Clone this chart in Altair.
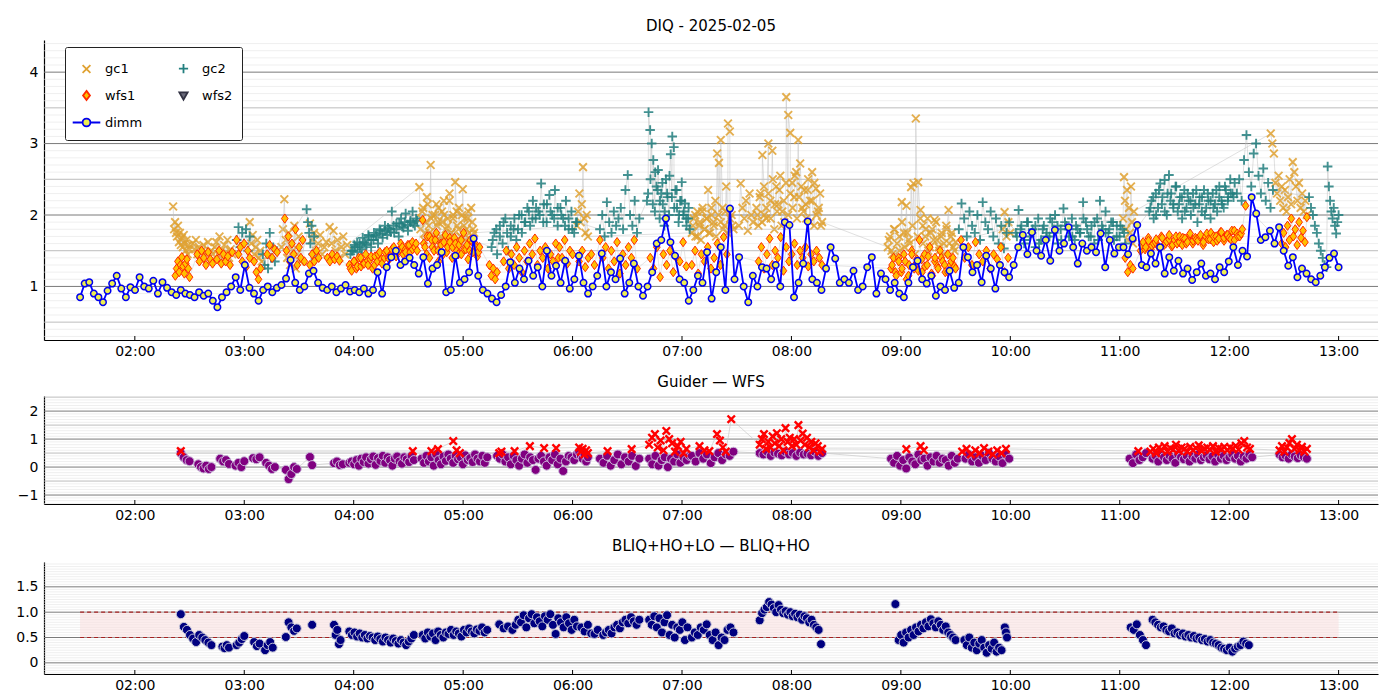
import altair as alt
import pandas as pd

# ------------------------------------------------------------------ data
DIMM_START, DIMM_END = 1.5, 13.0
DIMM = [
    0.85, 1.04, 1.06, 0.90, 0.85, 0.78, 0.94, 1.04, 1.15, 0.97, 0.85, 0.99,
    0.95, 1.13, 1.00, 0.97, 1.08, 0.90, 1.06, 0.98, 0.92, 0.88, 0.95, 0.90,
    0.88, 0.85, 0.92, 0.87, 0.90, 0.80, 0.71, 0.85, 0.92, 1.00, 1.13, 0.95,
    1.30, 0.98, 0.90, 0.80, 0.95, 1.00, 0.92, 0.98, 1.02, 1.11, 1.37, 1.05,
    0.95, 1.00, 1.18, 1.22, 1.05, 0.98, 0.95, 1.00, 0.92, 0.97, 1.02, 0.93,
    0.95, 0.92, 0.97, 0.90, 0.95, 1.20, 0.90, 1.27, 1.41, 1.50, 1.30, 1.35,
    1.40, 1.30, 1.18, 1.41, 1.04, 1.25, 1.30, 1.48, 0.92, 0.95, 1.43, 1.05,
    1.10, 1.20, 1.67, 1.15, 0.95, 0.90, 0.83, 0.78, 0.88, 1.00, 1.34, 1.05,
    1.25, 1.10, 1.36, 1.15, 1.27, 1.00, 1.50, 1.15, 1.29, 1.05, 1.36, 0.97,
    1.10, 1.43, 1.05, 0.90, 1.00, 1.15, 1.46, 1.00, 1.20, 1.10, 1.39, 0.90,
    1.05, 1.32, 1.00, 0.87, 1.00, 1.20, 1.60, 1.65, 1.95, 1.62, 1.43, 1.10,
    1.05, 0.80, 0.95, 1.15, 1.05, 1.48, 0.83, 1.20, 1.55, 0.95, 2.09, 1.10,
    1.41, 1.00, 0.78, 1.15, 1.00, 1.27, 1.25, 1.10, 1.30, 1.00, 1.90, 1.86,
    0.85, 1.05, 1.32, 1.91, 1.10, 1.05, 0.95, 1.25, 1.55, 1.39, 1.05, 1.10,
    1.05, 1.22, 0.95, 1.00, 1.27, 1.41, 0.90, 1.18, 1.10, 0.95, 1.05, 0.90,
    0.85, 1.05, 1.27, 1.36, 1.10, 1.04, 1.15, 0.87, 1.00, 0.95, 1.22, 0.98,
    1.05, 1.55, 1.41, 1.20, 1.30, 1.06, 1.43, 1.25, 0.97, 1.30, 1.20, 1.13,
    1.30, 1.55, 1.72, 1.45, 1.76, 1.50, 1.43, 1.65, 1.36, 1.79, 1.50, 1.60,
    1.83, 1.55, 1.32, 1.60, 1.50, 1.55, 1.48, 1.74, 1.27, 1.65, 1.46, 1.55,
    1.55, 1.45, 1.67, 1.86, 1.30, 1.27, 1.46, 1.32, 1.55, 1.18, 1.41, 1.22,
    1.36, 1.18, 1.25, 1.09, 1.20, 1.32, 1.15, 1.18, 1.10, 1.27, 1.20, 1.35,
    1.55, 1.30, 1.50, 1.42, 2.25, 2.02, 1.65, 1.69, 1.78, 1.60, 1.83, 1.50,
    1.29, 1.41, 1.13, 1.25, 1.18, 1.10, 1.06, 1.15, 1.27, 1.40, 1.46, 1.27,
]

# segments: (start hour, end hour, values)
GC1 = [
    (2.35, 2.50, [2.12, 1.80, 1.90, 1.75, 1.70, 1.85, 1.62, 1.75, 1.58, 1.68, 1.55, 1.72, 1.60, 1.50, 1.65, 1.45, 1.58, 1.52]),
    (2.53, 2.71, [1.60, 1.52, 1.65, 1.45, 1.55, 1.38, 1.50, 1.58, 1.42, 1.48, 1.62, 1.35, 1.50, 1.45]),
    (2.73, 2.89, [1.55, 1.62, 1.45, 1.70, 1.50, 1.38, 1.58, 1.48, 1.65, 1.40, 1.52, 1.45]),
    (3.05, 3.16, [1.90, 1.60, 1.72, 1.45, 1.55, 1.65, 1.40, 1.50, 1.35]),
    (3.34, 3.51, [1.55, 1.80, 2.22, 1.65, 1.40, 1.75, 1.30, 1.60, 1.50, 1.85, 1.25, 1.45, 1.70, 1.35]),
    (3.60, 3.75, [1.88, 1.65, 1.75, 1.50, 1.60, 1.72, 1.45, 1.55, 1.62]),
    (3.78, 3.94, [1.83, 1.60, 1.78, 1.50, 1.65, 1.40, 1.55, 1.70, 1.45, 1.58]),
    (4.60, 5.10, [2.39, 1.95, 2.10, 1.75, 2.25, 1.85, 2.70, 2.00, 1.70, 2.15, 1.90, 1.65, 2.05, 2.20, 1.80,
                  1.95, 2.30, 1.75, 2.00, 2.46, 1.85, 2.10, 1.70, 2.36, 1.95, 1.80, 2.05, 1.65, 1.90, 1.75]),
    (4.61, 5.09, [1.80, 2.05, 1.65, 1.90, 2.15, 1.75, 1.95, 1.60, 2.00, 1.85, 2.10, 1.70, 1.90, 2.00, 1.65,
                  1.85, 2.20, 1.75, 1.95, 1.60, 2.05, 1.80, 1.70, 2.00, 1.85, 1.65, 1.95, 1.75, 2.10, 1.80]),
    (6.04, 6.14, [1.85, 2.05, 2.30, 1.90, 2.15, 2.67, 1.95, 1.75, 2.00, 1.70]),
    (7.09, 7.47, [1.75, 1.95, 1.70, 2.05, 1.85, 1.65, 2.10, 1.80, 1.95, 2.35, 1.75, 2.00, 1.90, 2.20, 2.86,
                  2.73, 3.05, 2.10, 1.85, 2.40, 3.28, 3.17, 2.00, 1.80]),
    (7.10, 7.46, [1.85, 2.00, 1.70, 1.90, 2.05, 1.80, 1.95, 1.75, 2.10, 1.85, 1.70, 2.00, 1.90, 1.80, 2.05,
                  1.75, 1.95, 1.85]),
    (7.52, 7.65, [1.85, 2.44, 2.10, 1.95, 2.20, 1.78, 2.30, 2.00, 1.90]),
    (7.68, 8.28, [2.10, 1.85, 2.30, 2.84, 2.00, 1.95, 3.00, 2.20, 2.90, 1.80, 2.40, 2.15, 2.55, 2.05, 1.90,
                  3.65, 3.40, 3.15, 2.45, 2.25, 2.60, 3.05, 2.72, 2.10, 2.35, 1.95, 2.50, 2.20, 2.60, 1.85,
                  2.37, 2.05, 2.30, 1.90]),
    (7.69, 8.27, [2.00, 2.25, 1.90, 2.40, 2.10, 2.30, 1.95, 2.50, 2.15, 2.05, 2.35, 1.85, 2.20, 2.45, 2.00,
                  2.30, 2.10, 2.55, 1.95, 2.25, 2.40, 2.05, 2.15, 2.35, 1.90, 2.20, 2.45, 2.00, 2.10, 1.85]),
    (8.88, 9.50, [1.55, 1.70, 1.45, 1.80, 1.60, 1.50, 2.18, 1.75, 2.13, 1.65, 2.39, 2.44, 3.35, 2.46, 2.07,
                  1.85, 1.70, 1.95, 1.55, 1.80, 1.93, 1.65, 1.50, 1.75, 1.60, 1.85, 2.07, 1.70, 1.55, 1.62]),
    (8.89, 9.49, [1.65, 1.50, 1.80, 1.40, 1.70, 1.90, 1.55, 1.75, 1.60, 1.85, 1.45, 1.70, 1.95, 1.60, 1.80,
                  1.50, 1.75, 1.65, 1.90, 1.55, 1.70, 1.45, 1.80, 1.60, 1.75, 1.50]),
    (9.93, 10.00, [1.80, 2.04, 1.70, 1.90, 1.75]),
    (11.03, 11.13, [1.95, 2.53, 2.20, 1.80, 2.35, 1.65, 2.10, 1.75, 2.40, 1.90, 1.60, 2.05]),
    (12.38, 12.71, [3.14, 3.00, 2.86, 2.45, 2.30, 2.55, 2.20, 2.40, 2.10, 2.35, 2.05, 2.25, 2.50, 2.15, 2.74,
                    2.60, 2.40, 2.20, 2.45, 2.10, 2.30, 2.05, 2.20, 2.00]),
]

GC2 = [
    (2.93, 3.05, [1.65, 1.83, 1.55, 1.75, 1.60, 1.80, 1.50, 1.70]),
    (3.17, 3.28, [1.45, 1.30, 1.60, 1.25, 1.75, 1.40, 1.55, 1.35]),
    (3.57, 3.65, [2.08, 1.90, 1.75, 1.60, 1.85, 1.45, 1.70, 1.38]),
    (3.97, 4.58, [1.45, 1.50, 1.55, 1.48, 1.60, 1.52, 1.62, 1.58, 1.70, 1.55, 1.65, 1.72, 1.60, 1.78, 1.68,
                  1.85, 1.72, 1.80, 2.05, 1.75, 1.88, 1.70, 1.95, 1.82, 2.02, 1.78, 1.90, 2.05, 1.85, 1.92]),
    (3.98, 4.57, [1.50, 1.58, 1.62, 1.55, 1.68, 1.60, 1.72, 1.65, 1.75, 1.70, 1.80, 1.74, 1.78, 1.82, 1.76,
                  1.85, 1.80, 1.88, 1.84, 1.90, 1.86, 1.92, 1.88, 1.95]),
    (5.26, 6.04, [1.55, 1.75, 1.45, 1.85, 1.60, 1.95, 1.50, 1.70, 1.80, 1.65, 2.00, 1.75, 1.90, 2.10, 1.85,
                  2.20, 1.95, 2.05, 2.44, 2.15, 1.90, 2.28, 2.00, 2.35, 1.85, 2.10, 1.95, 2.20, 1.80, 2.05,
                  1.75, 1.90]),
    (5.27, 6.03, [1.65, 1.80, 1.70, 1.90, 1.75, 1.85, 1.95, 1.80, 2.00, 1.90, 2.05, 1.95, 2.10, 2.00, 1.90,
                  2.15, 2.05, 1.95, 2.10, 2.00, 1.85, 1.95, 1.80, 1.90]),
    (6.25, 6.61, [1.80, 2.00, 1.70, 2.18, 1.90, 1.75, 2.05, 1.85, 1.95, 2.10, 1.80, 2.35, 2.56, 2.00, 1.85,
                  2.20, 1.75, 1.95]),
    (6.68, 7.07, [2.20, 3.44, 3.19, 3.00, 2.77, 2.05, 2.40, 2.63, 1.95, 2.30, 2.15, 1.85, 2.50, 2.25, 2.00,
                  2.85, 3.10, 2.95, 2.35, 2.10, 1.90, 2.20, 2.46, 2.00, 2.16, 1.85, 1.95, 1.80]),
    (6.69, 7.06, [2.30, 2.50, 2.15, 2.60, 2.35, 2.20, 2.45, 2.05, 2.30, 2.55, 2.25, 2.10, 2.35, 2.00, 2.20,
                  2.05, 1.95, 2.10]),
    (9.53, 9.99, [1.80, 2.16, 1.95, 1.70, 2.05, 1.85, 1.75, 2.00, 1.65, 2.18, 1.90, 1.80, 2.05, 1.70, 1.95,
                  1.60, 1.85, 1.53, 1.75, 1.90]),
    (10.05, 11.05, [1.75, 2.07, 1.85, 1.60, 1.90, 1.70, 1.80, 1.55, 1.95, 1.65, 1.85, 1.75, 1.70, 1.90, 2.00,
                    1.60, 1.80, 2.09, 1.85, 1.70, 1.95, 1.65, 1.80, 1.75, 2.18, 1.90, 1.70, 1.85, 1.60, 1.95,
                    2.20, 1.80, 2.05, 1.75, 1.90, 1.65, 1.85, 1.70, 1.80, 1.60]),
    (10.06, 11.04, [1.70, 1.80, 1.65, 1.90, 1.75, 1.85, 1.60, 1.80, 1.70, 1.95, 1.75, 1.85, 1.65, 1.90, 1.80,
                    1.70, 1.85, 1.75, 1.95, 1.80, 1.70, 1.90, 1.65, 1.85, 1.75, 1.80, 1.90, 1.70, 1.85, 1.75]),
    (11.27, 12.05, [2.05, 2.20, 1.95, 2.30, 2.10, 2.44, 2.25, 2.49, 2.00, 2.56, 2.30, 2.15, 2.40, 2.05, 2.25,
                    1.95, 2.35, 2.10, 2.20, 2.00, 2.30, 2.15, 1.90, 2.25, 2.05, 2.35, 2.10, 2.20, 1.95, 2.30,
                    2.15, 2.05, 2.40, 2.20, 2.10, 2.35, 2.25, 2.50, 2.30, 2.45]),
    (11.28, 12.04, [2.10, 2.25, 2.00, 2.35, 2.15, 2.05, 2.30, 2.20, 2.10, 2.40, 2.15, 2.25, 2.05, 2.30, 2.20,
                    2.10, 2.35, 2.15, 2.25, 2.00, 2.30, 2.20, 2.10, 2.35, 2.25, 2.15, 2.40, 2.20, 2.30, 2.25]),
    (12.07, 12.40, [2.30, 2.50, 2.20, 2.77, 3.12, 2.60, 2.40, 2.86, 3.00, 2.55, 2.30, 2.65, 2.20, 2.45, 2.10, 2.35]),
    (12.73, 12.89, [2.25, 2.10, 2.00, 1.85, 1.75, 1.60, 1.50, 1.40, 1.30, 1.27]),
    (12.90, 13.00, [2.68, 2.40, 2.20, 2.05, 1.95, 2.10, 1.85, 1.74, 1.90, 2.00]),
]

WFS1 = [
    (2.37, 2.50, [1.15, 1.25, 1.35, 1.20, 1.30, 1.41, 1.28, 1.18, 1.32, 1.38, 1.25, 1.13]),
    (2.57, 2.71, [1.45, 1.35, 1.50, 1.40, 1.30, 1.48, 1.38, 1.32]),
    (2.75, 2.89, [1.38, 1.50, 1.32, 1.45, 1.35, 1.42, 1.30, 1.48]),
    (2.93, 3.05, [1.65, 1.45, 1.55, 1.35, 1.60, 1.27, 1.50, 1.40]),
    (3.09, 3.15, [1.35, 1.20, 1.10, 1.25]),
    (3.21, 3.30, [1.45, 1.58, 1.40, 1.52, 1.48]),
    (3.37, 3.55, [1.95, 1.50, 1.70, 1.35, 1.60, 1.45, 1.80, 1.30, 1.55, 1.40, 1.65, 1.35]),
    (3.60, 3.68, [1.30, 1.45, 1.35, 1.50, 1.40]),
    (3.76, 3.87, [1.40, 1.35, 1.45, 1.38, 1.42, 1.36]),
    (3.96, 4.58, [1.30, 1.22, 1.35, 1.25, 1.40, 1.28, 1.32, 1.45, 1.30, 1.38, 1.25, 1.42, 1.35, 1.48, 1.32,
                  1.40, 1.50, 1.38, 1.45, 1.55, 1.42, 1.50, 1.60, 1.45, 1.52, 1.58, 1.48, 1.62, 1.55, 1.50]),
    (3.97, 4.57, [1.25, 1.35, 1.28, 1.40, 1.32, 1.36, 1.42, 1.30, 1.45, 1.38, 1.48, 1.40, 1.52, 1.45, 1.50,
                  1.55, 1.48, 1.58, 1.52, 1.60]),
    (4.63, 5.15, [1.93, 1.55, 1.70, 1.40, 1.65, 1.50, 1.75, 1.35, 1.60, 1.45, 1.72, 1.55, 1.62, 1.40, 1.68,
                  1.50, 1.58, 1.45, 1.75, 1.52, 1.38, 1.65, 1.48, 1.60, 1.42, 1.55]),
    (4.64, 5.14, [1.60, 1.45, 1.70, 1.55, 1.65, 1.50, 1.58, 1.62, 1.48, 1.68, 1.55, 1.60, 1.45, 1.65, 1.52,
                  1.58, 1.50, 1.62, 1.55, 1.48]),
    (5.24, 5.31, [1.30, 1.15, 1.25, 1.10, 1.20]),
    (5.37, 5.87, [1.35, 1.50, 1.25, 1.45, 1.30, 1.55, 1.40, 1.20, 1.50, 1.35, 1.60, 1.45, 1.67, 1.30, 1.50,
                  1.40, 1.55, 1.25, 1.45, 1.35, 1.60, 1.40]),
    (5.88, 6.00, [1.55, 1.40, 1.65, 1.32, 1.50, 1.45]),
    (6.06, 6.20, [1.35, 1.50, 1.27, 1.40, 1.45, 1.30]),
    (6.25, 6.59, [1.65, 1.40, 1.55, 1.25, 1.50, 1.35, 1.62, 1.18, 1.45, 1.30, 1.55, 1.40, 1.65, 1.25]),
    (6.71, 7.04, [1.40, 1.25, 1.55, 1.13, 1.45, 1.30, 1.50, 1.20, 1.40, 1.35, 1.62, 1.28]),
    (7.09, 7.41, [1.30, 1.50, 1.18, 1.45, 1.35, 1.55, 1.25, 1.40, 1.60, 1.30, 1.69, 1.45]),
    (7.70, 8.28, [1.35, 1.55, 1.25, 1.45, 1.67, 1.30, 1.50, 1.40, 1.69, 1.22, 1.55, 1.35, 1.45, 1.60, 1.30,
                  1.50, 1.40, 1.55, 1.28, 1.45, 1.35, 1.50, 1.40, 1.30]),
    (8.91, 9.50, [1.25, 1.40, 1.15, 1.35, 1.20, 1.45, 1.10, 1.30, 1.50, 1.25, 1.38, 1.65, 1.20, 1.45, 1.30,
                  1.55, 1.15, 1.40, 1.28, 1.50, 1.35, 1.20, 1.45, 1.30, 1.40, 1.25]),
    (8.92, 9.49, [1.30, 1.20, 1.40, 1.25, 1.35, 1.15, 1.45, 1.30, 1.22, 1.38, 1.28, 1.42, 1.18, 1.35, 1.25,
                  1.40, 1.30, 1.20, 1.35, 1.28]),
    (9.55, 9.98, [1.65, 1.40, 1.55, 1.30, 1.62, 1.45, 1.35, 1.50, 1.25, 1.45, 1.38, 1.55, 1.20, 1.40]),
    (11.05, 11.12, [1.40, 1.20, 1.30, 1.25]),
    (11.19, 12.12, [1.50, 1.62, 1.55, 1.68, 1.52, 1.60, 1.66, 1.55, 1.70, 1.58, 1.63, 1.72, 1.56, 1.65, 1.60,
                    1.70, 1.58, 1.67, 1.62, 1.74, 1.60, 1.68, 1.64, 1.72, 1.58, 1.70, 1.66, 1.75, 1.62, 1.70,
                    1.67, 1.76, 1.64, 1.72, 1.68, 1.78, 1.65, 1.74, 1.70, 1.80]),
    (11.20, 12.11, [1.58, 1.52, 1.64, 1.57, 1.62, 1.55, 1.68, 1.60, 1.66, 1.58, 1.70, 1.62, 1.68, 1.60, 1.72,
                    1.64, 1.66, 1.70, 1.62, 1.74, 1.66, 1.70, 1.64, 1.76, 1.68, 1.72, 1.66, 1.78, 1.70, 1.74]),
    (12.15, 12.15, [2.13]),
    (12.48, 12.71, [1.60, 1.75, 1.55, 1.85, 1.65, 1.95, 1.70, 1.80, 1.58, 1.90, 1.68, 1.78, 1.62, 1.97]),
]

GUIDER_WFS = [
    (2.42, 2.50, [0.50, 0.35, 0.25, 0.21]),
    (2.58, 2.70, [0.10, 0.00, -0.05, 0.05, -0.07, 0.00]),
    (2.78, 2.86, [0.30, 0.20, 0.25, 0.11]),
    (2.92, 3.00, [0.05, 0.15, 0.00, 0.21]),
    (3.08, 3.14, [0.32, 0.28, 0.35]),
    (3.20, 3.28, [0.15, 0.05, -0.07, 0.00]),
    (3.38, 3.48, [-0.10, -0.43, -0.25, 0.00, -0.07]),
    (3.60, 3.62, [0.36, 0.07]),
    (3.82, 3.90, [0.14, 0.20, 0.07, 0.10]),
    (3.96, 4.55, [0.15, 0.20, 0.10, 0.25, 0.05, 0.30, 0.18, 0.35, 0.12, 0.28, 0.38, 0.08, 0.32, 0.22, 0.40,
                  0.15, 0.35, 0.25, 0.05, 0.30, 0.38, 0.20, 0.12, 0.35, 0.28, 0.18, 0.40, 0.25]),
    (4.62, 5.22, [0.30, 0.15, 0.40, 0.20, 0.35, 0.05, 0.45, 0.25, 0.10, 0.38, 0.22, 0.45, 0.30, 0.15, 0.40,
                  0.28, 0.35, 0.10, 0.42, 0.25, 0.32, 0.18, 0.45, 0.30, 0.20, 0.40, 0.15, 0.35]),
    (5.31, 6.04, [0.40, 0.30, 0.45, 0.20, 0.35, 0.10, 0.40, 0.25, 0.05, 0.30, 0.45, 0.15, 0.35, 0.25, -0.10,
                  0.30, 0.40, 0.20, 0.05, 0.35, 0.25, 0.45, 0.10, 0.30, -0.14, 0.20, 0.40, 0.35, 0.25, 0.45]),
    (6.06, 6.14, [0.55, 0.40, 0.30, 0.45, 0.20, 0.35]),
    (6.25, 6.61, [0.30, 0.15, 0.40, 0.05, 0.25, 0.45, 0.10, 0.35, 0.20, 0.40, 0.04, 0.30]),
    (6.70, 7.07, [0.30, 0.10, 0.40, 0.05, 0.25, 0.35, 0.00, 0.30, 0.20, 0.45, 0.15, 0.35, 0.25, 0.40]),
    (7.09, 7.47, [0.40, 0.20, 0.50, 0.30, 0.45, 0.14, 0.35, 0.50, 0.25, 0.45, 0.40, 0.55]),
    (7.71, 8.28, [0.50, 0.45, 0.55, 0.40, 0.52, 0.48, 0.42, 0.55, 0.45, 0.50, 0.40, 0.52, 0.45, 0.48, 0.42,
                  0.55, 0.40, 0.50]),
    (8.91, 9.52, [0.30, 0.15, 0.40, 0.05, 0.25, -0.05, 0.35, 0.20, 0.10, 0.45, 0.25, 0.30, 0.05, 0.35, 0.20,
                  0.40, 0.15, 0.30, 0.25, 0.05, 0.40, 0.15, 0.30]),
    (9.59, 9.99, [0.30, 0.45, 0.20, 0.35, 0.15, 0.40, 0.25, 0.50, 0.30, 0.20, 0.38, 0.14, 0.45, 0.30]),
    (11.09, 11.24, [0.30, 0.14, 0.45, 0.25, 0.35, 0.50]),
    (11.30, 12.21, [0.30, 0.40, 0.20, 0.45, 0.35, 0.25, 0.40, 0.30, 0.15, 0.45, 0.35, 0.28, 0.40, 0.20, 0.38,
                    0.30, 0.45, 0.25, 0.35, 0.42, 0.28, 0.38, 0.20, 0.45, 0.30, 0.40, 0.25, 0.35, 0.45, 0.30,
                    0.40, 0.20, 0.38, 0.30, 0.45, 0.35]),
    (12.46, 12.71, [0.45, 0.35, 0.40, 0.30, 0.45, 0.38, 0.32, 0.42, 0.36, 0.30]),
]

GUIDER_WFS_X = [
    (2.42, 2.42, [0.57]),
    (4.54, 4.54, [0.57]),
    (4.71, 4.77, [0.57, 0.64]),
    (4.91, 4.97, [0.93, 0.60, 0.50]),
    (5.33, 5.35, [0.50, 0.55]),
    (5.47, 5.47, [0.57]),
    (5.61, 5.61, [0.75]),
    (5.74, 5.74, [0.68]),
    (5.85, 5.85, [0.68]),
    (6.06, 6.14, [0.70, 0.55, 0.65, 0.45, 0.60, 0.50]),
    (6.32, 6.32, [0.57]),
    (6.54, 6.54, [0.64]),
    (6.70, 7.04, [0.80, 1.05, 1.18, 0.70, 0.95, 0.60, 1.29, 1.00, 0.85, 0.55, 0.75, 0.90, 0.50, 0.65]),
    (7.16, 7.25, [0.75, 0.60, 0.57]),
    (7.32, 7.40, [1.18, 0.95, 0.70, 0.55]),
    (7.45, 7.45, [1.71]),
    (7.71, 8.28, [0.80, 1.00, 1.18, 0.65, 0.90, 0.70, 1.10, 0.85, 1.21, 0.75, 1.00, 0.60, 1.39, 0.90, 1.05,
                  0.75, 1.00, 0.80, 1.50, 0.95, 1.20, 0.80, 1.05, 0.70, 0.90, 0.60, 0.85, 0.75, 0.55, 0.65]),
    (9.05, 9.05, [0.64]),
    (9.18, 9.21, [0.75, 0.60]),
    (9.56, 9.96, [0.55, 0.65, 0.45, 0.60, 0.50, 0.68, 0.55, 0.45, 0.60, 0.50, 0.65]),
    (11.17, 11.17, [0.57]),
    (11.28, 12.19, [0.55, 0.65, 0.50, 0.70, 0.60, 0.75, 0.55, 0.68, 0.62, 0.80, 0.58, 0.70, 0.65, 0.55, 0.72,
                    0.60, 0.68, 0.78, 0.58, 0.66, 0.70, 0.62, 0.75, 0.55, 0.68, 0.64, 0.72, 0.60, 0.70, 0.66,
                    0.76, 0.62, 0.85, 0.93, 0.70, 0.65]),
    (12.46, 12.71, [0.60, 0.75, 0.55, 0.70, 0.86, 1.00, 0.65, 0.80, 0.60, 0.72, 0.55, 0.65]),
]

BLIQ = [
    (2.42, 2.70, [0.96, 0.71, 0.65, 0.55, 0.48, 0.41, 0.55, 0.50, 0.45, 0.40, 0.35]),
    (2.80, 2.86, [0.32, 0.29, 0.35, 0.30]),
    (2.93, 3.00, [0.35, 0.40, 0.47, 0.53]),
    (3.09, 3.14, [0.41, 0.33, 0.38]),
    (3.19, 3.26, [0.25, 0.35, 0.41, 0.30]),
    (3.38, 3.48, [0.51, 0.80, 0.70, 0.63, 0.68]),
    (3.62, 3.62, [0.75]),
    (3.82, 3.88, [0.75, 0.55, 0.65, 0.37, 0.45]),
    (3.96, 4.55, [0.62, 0.55, 0.60, 0.52, 0.58, 0.50, 0.55, 0.48, 0.53, 0.50, 0.45, 0.52, 0.47, 0.42, 0.50,
                  0.45, 0.40, 0.48, 0.43, 0.38, 0.45, 0.40, 0.35, 0.42, 0.48, 0.55]),
    (4.63, 5.22, [0.55, 0.48, 0.60, 0.52, 0.58, 0.45, 0.62, 0.55, 0.50, 0.60, 0.57, 0.65, 0.55, 0.62, 0.58,
                  0.52, 0.65, 0.60, 0.68, 0.62, 0.58, 0.66, 0.63, 0.70, 0.60, 0.65]),
    (5.33, 5.45, [0.76, 0.68, 0.72, 0.65]),
    (5.48, 6.04, [0.75, 0.85, 0.80, 0.94, 0.70, 0.88, 0.96, 0.78, 0.90, 0.82, 0.72, 0.92, 0.85, 0.96, 0.75,
                  0.57, 0.88, 0.80, 0.70, 0.90, 0.78, 0.65, 0.85, 0.72]),
    (6.08, 6.23, [0.70, 0.62, 0.75, 0.58, 0.57, 0.65]),
    (6.28, 6.61, [0.55, 0.60, 0.65, 0.58, 0.70, 0.75, 0.68, 0.80, 0.85, 0.78, 0.90, 0.82, 0.75, 0.85]),
    (6.70, 7.05, [0.85, 0.75, 0.92, 0.70, 0.88, 0.60, 0.80, 0.94, 0.55, 0.75, 0.50, 0.70, 0.65, 0.80, 0.45, 0.70]),
    (7.09, 7.47, [0.50, 0.60, 0.55, 0.70, 0.65, 0.76, 0.55, 0.45, 0.60, 0.35, 0.50, 0.45, 0.65, 0.70, 0.60]),
    (7.71, 8.27, [0.84, 0.98, 1.05, 1.10, 1.20, 1.15, 1.08, 1.00, 1.14, 1.05, 0.98, 1.02, 0.95, 1.00, 0.92,
                  0.97, 0.90, 0.95, 0.85, 0.92, 0.88, 0.80, 0.85, 0.75, 0.70, 0.65, 0.37]),
    (8.95, 8.95, [1.16]),
    (8.98, 9.50, [0.45, 0.55, 0.40, 0.60, 0.50, 0.65, 0.55, 0.70, 0.62, 0.75, 0.68, 0.80, 0.72, 0.86, 0.78,
                  0.70, 0.82, 0.75, 0.65, 0.72, 0.60, 0.55, 0.50, 0.45]),
    (9.58, 9.92, [0.45, 0.35, 0.50, 0.30, 0.40, 0.25, 0.38, 0.45, 0.30, 0.20, 0.35, 0.28, 0.40, 0.22, 0.30, 0.25]),
    (9.95, 9.97, [0.70, 0.60, 0.50]),
    (11.10, 11.24, [0.70, 0.65, 0.76, 0.55, 0.45, 0.35]),
    (11.30, 12.18, [0.85, 0.80, 0.75, 0.70, 0.72, 0.65, 0.62, 0.68, 0.58, 0.60, 0.55, 0.58, 0.52, 0.55, 0.50,
                    0.53, 0.48, 0.50, 0.45, 0.47, 0.42, 0.45, 0.40, 0.38, 0.35, 0.30, 0.28, 0.25, 0.30, 0.22,
                    0.28, 0.32, 0.35, 0.42, 0.38, 0.35]),
]

BAND_START, BAND_END = 1.5, 13.0
BAND_LO, BAND_HI = 0.5, 1.0

HOURS = list(range(2, 14))
# legend entries, listed column by column (2 columns)
LEG_NAMES = ["gc1", "wfs1", "dimm", "gc2", "wfs2"]

TITLE_TOP = "DIQ - 2025-02-05"
TITLE_MID = "Guider \u2014 WFS"
TITLE_BOT = "BLIQ+HO+LO \u2014 BLIQ+HO"


# ------------------------------------------------------------------ helpers
def expand(segs):
    rows = []
    for a, b, vals in segs:
        n = len(vals)
        for i, v in enumerate(vals):
            t = a if n == 1 else a + (b - a) * i / (n - 1)
            rows.append({"t": t, "y": v})
    return pd.DataFrame(rows).sort_values("t", kind="stable")


n = len(DIMM)
dimm_df = pd.DataFrame({
    "t": [DIMM_START + (DIMM_END - DIMM_START) * i / (n - 1) for i in range(n)],
    "y": DIMM,
})
gc1_df = expand(GC1)
gc2_df = expand(GC2)
wfs1_df = expand(WFS1)
gw_df = expand(GUIDER_WFS)
gwx_df = expand(GUIDER_WFS_X)
bliq_df = expand(BLIQ)

FONT = "DejaVu Sans"
W = 1334
H1, H2, H3 = 300, 108, 112

XS = alt.Scale(domain=[1.17, 13.36], nice=False, zero=False)
YS1 = alt.Scale(domain=[0.25, 4.45], nice=False, zero=False)
YS2 = alt.Scale(domain=[-1.32, 2.54], nice=False, zero=False)
YS3 = alt.Scale(domain=[-0.22, 1.99], nice=False, zero=False)

XAX = alt.Axis(values=HOURS, title=None, grid=False, ticks=False, labelPadding=4,
               labelExpr="(datum.value < 10 ? '0' : '') + datum.value + ':00'")
YAX1 = alt.Axis(values=[1, 2, 3, 4], title=None, grid=False, ticks=False, format="d")
YAX2 = alt.Axis(values=[-1, 0, 1, 2], title=None, grid=False, ticks=False, format="d")
YAX3 = alt.Axis(values=[0, 0.5, 1.0, 1.5], title=None, grid=False, ticks=False,
                labelExpr="datum.value == 0 ? '0' : format(datum.value, '.1f')")

XPATH = "M-1,-1L1,1M-1,1L1,-1"
PLUS = "M-1,0L1,0M0,-1L0,1"
DIAM = "M0,-1L0.72,0L0,1L-0.72,0Z"


def xenc(field="t"):
    return alt.X(f"{field}:Q", scale=XS, axis=XAX)


def grid_layers(ys, yax, minor, mid, major):
    out = []
    for vals, col, sw in ((minor, "#e4e4e4", 0.6), (mid, "#b5b5b5", 0.9), (major, "#7a7a7a", 1.0)):
        if not vals:
            continue
        out.append(
            alt.Chart(pd.DataFrame({"v": vals})).mark_rule(color=col, strokeWidth=sw)
            .encode(y=alt.Y("v:Q", scale=ys, axis=yax))
        )
    return out


def tick_layer(h):
    return (alt.Chart(pd.DataFrame({"h": HOURS})).mark_rule(color="black", strokeWidth=1)
            .encode(x=xenc("h"), y=alt.value(h), y2=alt.value(h - 4)))


def conn_line(df, ys, yax, color="#bdbdbd", sw=0.8, op=0.6):
    return (alt.Chart(df).mark_line(color=color, strokeWidth=sw, opacity=op)
            .encode(x=xenc(), y=alt.Y("y:Q", scale=ys, axis=yax), order="t:Q"))


def pts(df, ys, yax, **kw):
    return alt.Chart(df).mark_point(**kw).encode(x=xenc(), y=alt.Y("y:Q", scale=ys, axis=yax))


# ------------------------------------------------------------------ top panel
minor1 = [round(0.3 + 0.1 * i, 2) for i in range(42)]
minor1 = [v for v in minor1 if abs(v * 2 - round(v * 2)) > 1e-6]
top_layers = grid_layers(YS1, YAX1, minor1, [0.5, 1.5, 2.5, 3.5], [1, 2, 3, 4])
top_layers += [
    conn_line(gc1_df, YS1, YAX1),
    pts(gc1_df, YS1, YAX1, shape=XPATH, filled=False, stroke="#e0a232", strokeWidth=1.9, size=60, opacity=0.85),
    conn_line(gc2_df, YS1, YAX1),
    pts(gc2_df, YS1, YAX1, shape=PLUS, filled=False, stroke="#237f7f", strokeWidth=1.9, size=90, opacity=0.85),
    conn_line(wfs1_df, YS1, YAX1, color="#c8c8c8"),
    pts(wfs1_df, YS1, YAX1, shape=DIAM, filled=True, fill="#ffc000", stroke="#ff2a00", strokeWidth=1,
        size=85, opacity=1),
    alt.Chart(dimm_df).mark_line(color="#0000ff", strokeWidth=1.8)
    .encode(x=xenc(), y=alt.Y("y:Q", scale=YS1, axis=YAX1), order="t:Q"),
    pts(dimm_df, YS1, YAX1, shape="circle", filled=True, fill="#eeee50", stroke="#0000ee", strokeWidth=1.5,
        size=42, opacity=1),
]

LEG_SHAPES = [
    "M-0.34,-0.34L0.34,0.34M-0.34,0.34L0.34,-0.34",
    "M0,-0.4L0.3,0L0,0.4L-0.3,0Z",
    "M-1.2,0L-0.34,0M0.34,0L1.2,0M-0.34,0A0.34,0.34,0,1,1,0.34,0A0.34,0.34,0,1,1,-0.34,0Z",
    "M-0.4,0L0.4,0M0,-0.4L0,0.4",
    "M-0.36,-0.28L0.36,-0.28L0,0.36Z",
]
LEG_STROKE = ["#e0a232", "#ff2a00", "#0000ee", "#237f7f", "#333344"]
LEG_FILL = ["#e0a232", "#ffc000", "#eeee50", "#237f7f", "#6a6a7a"]
leg_kw = dict(title=None, orient="none", legendX=21, legendY=7, columns=2, symbolSize=529,
              symbolStrokeWidth=1.8, labelFont=FONT, labelFontSize=13, labelColor="black",
              labelOffset=6, padding=9, rowPadding=6, columnPadding=28, strokeColor="#222222",
              fillColor="white", cornerRadius=2, symbolOpacity=1)
leg_df = pd.DataFrame({"series": LEG_NAMES, "t": [2.0] * 5, "y": [-5.0] * 5})
legend_layer = alt.Chart(leg_df).mark_point(clip=True, opacity=1).encode(
    x=xenc(),
    y=alt.Y("y:Q", scale=YS1, axis=YAX1),
    shape=alt.Shape("series:N", sort=LEG_NAMES, scale=alt.Scale(domain=LEG_NAMES, range=LEG_SHAPES),
                    legend=alt.Legend(**leg_kw)),
    stroke=alt.Stroke("series:N", sort=LEG_NAMES, scale=alt.Scale(domain=LEG_NAMES, range=LEG_STROKE),
                      legend=alt.Legend(**leg_kw)),
    fill=alt.Fill("series:N", sort=LEG_NAMES, scale=alt.Scale(domain=LEG_NAMES, range=LEG_FILL),
                  legend=alt.Legend(**leg_kw)),
)
top_layers += [legend_layer, tick_layer(H1)]
top = alt.layer(*top_layers).properties(width=W, height=H1, title=TITLE_TOP)

# ------------------------------------------------------------------ middle panel
minor2 = [round(-1.3 + 0.1 * i, 2) for i in range(39)]
minor2 = [v for v in minor2 if abs(v * 2 - round(v * 2)) > 1e-6]
mid_layers = grid_layers(YS2, YAX2, minor2, [-0.5, 0.5, 1.5, 2.5], [-1, 0, 1, 2])
mid_layers += [
    conn_line(gw_df, YS2, YAX2, color="#c4c4c4", sw=0.8, op=0.8),
    conn_line(gwx_df, YS2, YAX2, color="#c4c4c4", sw=0.8, op=0.8),
    pts(gw_df, YS2, YAX2, shape="circle", filled=True, fill="#800080", stroke="#c9b6d9", strokeWidth=1,
        size=80, opacity=1),
    pts(gwx_df, YS2, YAX2, shape=XPATH, filled=False, stroke="#ff0000", strokeWidth=2.4, size=55, opacity=1),
    tick_layer(H2),
]
mid = alt.layer(*mid_layers).properties(width=W, height=H2, title=TITLE_MID)

# ------------------------------------------------------------------ bottom panel
minor3 = [round(-0.2 + 0.05 * i, 3) for i in range(44)]
minor3 = [v for v in minor3 if abs(v * 2 - round(v * 2)) > 1e-6]
bot_layers = grid_layers(YS3, YAX3, minor3, [], [0, 0.5, 1.0, 1.5])
band_df = pd.DataFrame({"x0": [BAND_START], "x1": [BAND_END], "lo": [BAND_LO], "hi": [BAND_HI]})
lim_df = pd.DataFrame({"x0": [BAND_START] * 2, "x1": [BAND_END] * 2, "v": [BAND_LO, BAND_HI]})
bot_layers += [
    alt.Chart(band_df).mark_rect(color="#f9dcdc", opacity=0.5).encode(
        x=xenc("x0"), x2="x1:Q", y=alt.Y("lo:Q", scale=YS3, axis=YAX3), y2="hi:Q"),
    alt.Chart(lim_df).mark_rule(color="#a52020", strokeDash=[4, 3], strokeWidth=1.2).encode(
        x=xenc("x0"), x2="x1:Q", y=alt.Y("v:Q", scale=YS3, axis=YAX3)),
    pts(bliq_df, YS3, YAX3, shape="circle", filled=True, fill="#000080", stroke="#c6c6d8", strokeWidth=1,
        size=80, opacity=1),
    tick_layer(H3),
]
bot = alt.layer(*bot_layers).properties(width=W, height=H3, title=alt.Title(TITLE_BOT, offset=8))

chart = (
    alt.vconcat(top, mid, bot, spacing=17)
    .properties(padding={"left": 7, "top": 11, "right": 5, "bottom": 5})
    .configure(font=FONT)
    .configure_view(stroke=None)
    .configure_axis(labelFont=FONT, labelFontSize=14, labelColor="black", domainColor="black",
                    domainWidth=1.2, labelPadding=6)
    .configure_title(font=FONT, fontSize=15, fontWeight="normal", color="black", offset=6)
)

chart.save("out.html", embed_options={"renderer": "svg", "actions": False})
